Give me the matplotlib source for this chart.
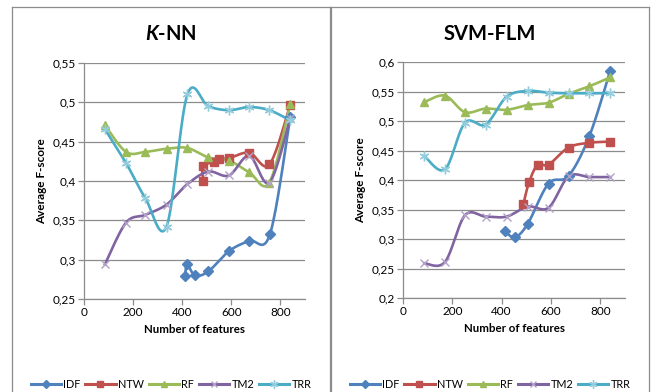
import matplotlib.pyplot as plt
import numpy as np
from matplotlib.lines import Line2D
from matplotlib.ticker import FuncFormatter

plt.rcParams['font.family'] = ['Lato', 'DejaVu Sans']
plt.rcParams['mathtext.fontset'] = 'custom'
plt.rcParams['mathtext.bfit'] = 'Lato:italic:bold'

# K-NN panel data
knn_idf_x = [412, 420, 452, 506, 591, 673, 757, 840]
knn_idf_y = [0.279, 0.294, 0.280, 0.285, 0.311, 0.324, 0.332, 0.481]
knn_ntw_x = [486, 484, 529, 550, 590, 673, 755, 840]
knn_ntw_y = [0.400, 0.419, 0.424, 0.428, 0.429, 0.436, 0.421, 0.497]
knn_x = [85, 171, 250, 336, 421, 506, 590, 673, 755, 840]
knn_rf_y = [0.471, 0.437, 0.437, 0.441, 0.442, 0.430, 0.426, 0.411, 0.398, 0.498]
knn_tm2_y = [0.294, 0.347, 0.357, 0.370, 0.396, 0.412, 0.407, 0.432, 0.398, 0.480]
knn_trr_y = [0.466, 0.423, 0.378, 0.342, 0.510, 0.495, 0.490, 0.494, 0.490, 0.477]

# SVM-FLM panel data
svm_idf_x = [413, 454, 506, 590, 671, 756, 840]
svm_idf_y = [0.313, 0.303, 0.326, 0.394, 0.407, 0.475, 0.585]
svm_ntw_x = [488, 511, 546, 590, 671, 756, 840]
svm_ntw_y = [0.359, 0.396, 0.426, 0.426, 0.455, 0.463, 0.465]
svm_x = [86, 170, 251, 335, 420, 506, 590, 671, 756, 840]
svm_rf_y = [0.532, 0.543, 0.515, 0.521, 0.519, 0.527, 0.531, 0.546, 0.559, 0.574]
svm_tm2_y = [0.259, 0.261, 0.340, 0.338, 0.338, 0.355, 0.353, 0.406, 0.405, 0.405]
svm_trr_y = [0.441, 0.418, 0.497, 0.494, 0.541, 0.551, 0.548, 0.547, 0.547, 0.547]

names = ['IDF', 'NTW', 'RF', 'TM2', 'TRR']
colors = ['#4F81BD', '#C0504D', '#9BBB59', '#8064A2', '#4BACC6']
mk_colors = ['#4F81BD', '#C0504D', '#9BBB59', '#B3A2C7', '#93CDDD']
markers = ['D', 's', '^', 'x', (6, 2, 0)]
msizes = [5, 6, 6, 6, 7]


def smooth(x, y, n=20):
    # excel-style smoothed line (catmull-rom bezier through the points)
    p = np.column_stack([x, y]).astype(float)
    pts = [p[0]]
    for i in range(len(p) - 1):
        p0 = p[max(i - 1, 0)]
        p1 = p[i]
        p2 = p[i + 1]
        p3 = p[min(i + 2, len(p) - 1)]
        c1 = p1 + (p2 - p0) / 6
        c2 = p2 - (p3 - p1) / 6
        t = np.linspace(0, 1, n)[1:, None]
        seg = (1 - t)**3 * p1 + 3 * (1 - t)**2 * t * c1 + 3 * (1 - t) * t**2 * c2 + t**3 * p2
        pts.extend(seg)
    pts = np.array(pts)
    return pts[:, 0], pts[:, 1]


fig = plt.figure(figsize=(6.56, 3.92), dpi=100)
W, H = 656, 392

# panel borders
for xs, ys in [([12, 12], [392, 7]), ([12, 649], [7, 7]), ([330, 330], [7, 392]),
               ([331, 331], [7, 392]), ([649, 649], [7, 392])]:
    fig.add_artist(Line2D([v / W for v in xs], [1 - v / H for v in ys],
                          color='#8c8c8c', lw=0.9))

panels = [
    dict(rect=[84 / W, 1 - 299 / H, 221 / W, 236 / H], title=r'$\mathbfit{K}$-NN', cx=171,
         ylim=(0.25, 0.55),
         series=[(knn_idf_x, knn_idf_y), (knn_ntw_x, knn_ntw_y), (knn_x, knn_rf_y),
                 (knn_x, knn_tm2_y), (knn_x, knn_trr_y)]),
    dict(rect=[403 / W, 1 - 298 / H, 222 / W, 236 / H], title='SVM-FLM', cx=490,
         ylim=(0.2, 0.6),
         series=[(svm_idf_x, svm_idf_y), (svm_ntw_x, svm_ntw_y), (svm_x, svm_rf_y),
                 (svm_x, svm_tm2_y), (svm_x, svm_trr_y)]),
]

comma = FuncFormatter(lambda v, pos: ('%g' % round(v, 2)).replace('.', ','))

for pn in panels:
    ax = fig.add_axes(pn['rect'])
    handles = []
    for (x, y), name, c, mc, m, ms in zip(pn['series'], names, colors, mk_colors, markers, msizes):
        sx, sy = smooth(x, y)
        ax.plot(sx, sy, color=c, lw=1.9, zorder=3)
        ax.plot(x, y, ls='none', marker=m, ms=ms, color=mc, mec=mc, mew=1.0, zorder=4)
        handles.append(Line2D([], [], color=c, lw=2.2, marker=m, ms=ms - 1, mfc=mc, mec=mc,
                              mew=1.0, label=name))
    ax.set_xlim(0, 900)
    ax.set_ylim(*pn['ylim'])
    ax.set_xticks(np.arange(0, 801, 200))
    ax.set_yticks(np.arange(pn['ylim'][0], pn['ylim'][1] + 0.001, 0.05))
    ax.yaxis.set_major_formatter(comma)
    ax.grid(axis='y', color='#8c8c8c', lw=0.9)
    ax.set_axisbelow(True)
    for s in ['top', 'right']:
        ax.spines[s].set_visible(False)
    for s in ['left', 'bottom']:
        ax.spines[s].set_color('#8c8c8c')
        ax.spines[s].set_linewidth(0.9)
    ax.tick_params(labelsize=8.5, colors='#8c8c8c', labelcolor='black', length=4, width=0.9, pad=2)
    ax.set_xlabel('Number of features', fontsize=8.3, fontweight='bold', labelpad=4)
    ax.set_ylabel('Average F-score', fontsize=8.5, fontweight='bold', labelpad=4)
    fig.text(pn['cx'] / W, 1 - 34 / H, pn['title'], ha='center', va='center',
             fontsize=14.5, fontweight='bold')
    fig.legend(handles=handles, loc='center', bbox_to_anchor=(pn['cx'] / W, 1 - 384 / H),
               ncol=5, frameon=False, fontsize=7.8, handlelength=2.8, handletextpad=0.2,
               columnspacing=0.45)

fig.savefig('out.png', dpi=100)
